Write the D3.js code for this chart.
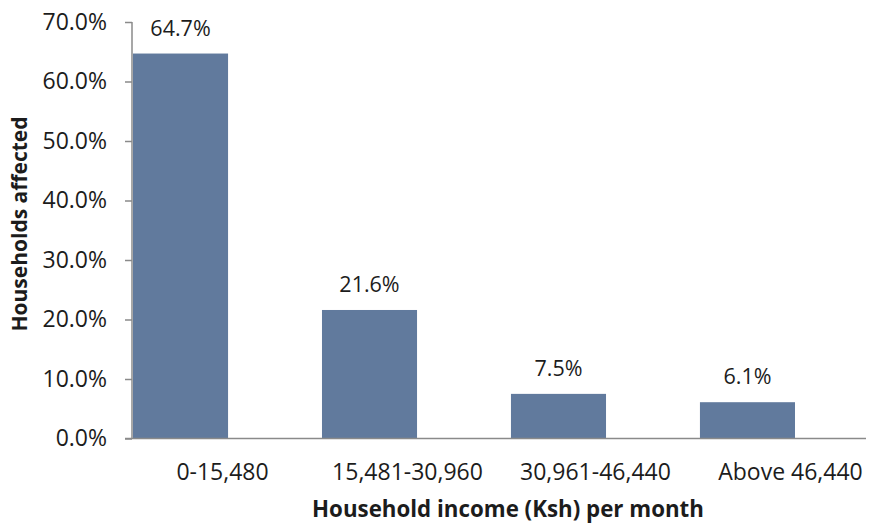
<!DOCTYPE html>
<html lang="en">
<head>
  <meta charset="UTF-8">
  <title>Households affected by household income</title>
  <style>
    body { margin: 0; background: #fff; }
    svg { display: block; }
    text { font-family: "Open Sans", sans-serif; fill: #1c1c1c; }
  </style>
  <script src="https://d3js.org/d3.v7.min.js"></script>
</head>
<body>
  <svg id="chart" width="879" height="525"></svg>
  <script>
    // data
    const categories = ["0-15,480", "15,481-30,960", "30,961-46,440", "Above 46,440"];
    const values = [64.7, 21.6, 7.5, 6.1];
    const yTicks = [0, 10, 20, 30, 40, 50, 60, 70];

    const svg = d3.select("#chart");
    const plot = { left: 132, right: 866, top: 22, bottom: 438.5 };

    const x = d3.scaleBand()
      .domain(categories)
      .range([133, 795])
      .paddingInner(0.497)
      .paddingOuter(0);

    const y = d3.scaleLinear()
      .domain([0, 70])
      .range([plot.bottom, plot.top]);

    // bars
    svg.append("g").selectAll("rect")
      .data(values)
      .join("rect")
      .attr("x", (d, i) => x(categories[i]))
      .attr("y", d => y(d))
      .attr("width", x.bandwidth())
      .attr("height", d => y(0) - y(d))
      .attr("fill", "#617a9d");

    // y axis
    const yAxis = svg.append("g")
      .attr("transform", `translate(${plot.left},0)`)
      .call(d3.axisLeft(y).tickValues(yTicks).tickSize(7).tickPadding(18)
        .tickFormat(d => d.toFixed(1) + "%"));
    yAxis.select(".domain").attr("stroke", "#8a8a8a").attr("stroke-width", 1.5)
      .attr("d", `M0,${plot.top}V${plot.bottom}`);
    yAxis.selectAll(".tick line").attr("stroke", "#8a8a8a").attr("stroke-width", 1.5);
    yAxis.selectAll(".tick text").attr("font-size", 23).attr("fill", "#1c1c1c")
      .attr("font-family", "Open Sans, sans-serif");

    // x axis line
    svg.append("line")
      .attr("x1", plot.left - 7).attr("x2", plot.right)
      .attr("y1", y(0)).attr("y2", y(0))
      .attr("stroke", "#8a8a8a").attr("stroke-width", 1.5);

    // category labels (sit to the right of bar centres in the original)
    svg.append("g").selectAll("text")
      .data(categories)
      .join("text")
      .attr("x", (d, i) => x(d) + x.bandwidth() / 2 + [42, 38, 37, 43][i])
      .attr("y", 480)
      .attr("text-anchor", "middle")
      .attr("font-size", 23)
      .text(d => d);

    // value labels
    svg.append("g").selectAll("text")
      .data(values)
      .join("text")
      .attr("x", (d, i) => x(categories[i]) + x.bandwidth() / 2)
      .attr("y", d => y(d) - 18)
      .attr("text-anchor", "middle")
      .attr("font-size", 21.5)
      .text(d => d.toFixed(1) + "%");

    // axis titles
    svg.append("text")
      .attr("x", 508).attr("y", 517)
      .attr("text-anchor", "middle")
      .attr("font-size", 22.3).attr("font-weight", "bold")
      .text("Household income (Ksh) per month");

    svg.append("text")
      .attr("transform", "translate(27,224) rotate(-90)")
      .attr("text-anchor", "middle")
      .attr("font-size", 21).attr("font-weight", "bold")
      .text("Households affected");
  </script>
</body>
</html>
